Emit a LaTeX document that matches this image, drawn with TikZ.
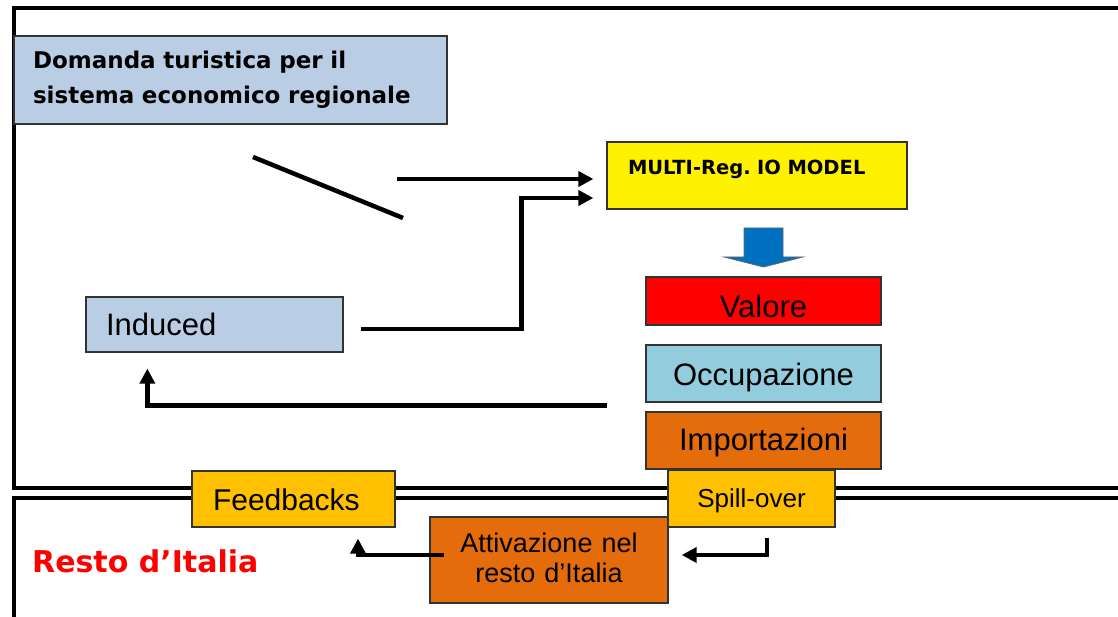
\documentclass[tikz,border=0pt]{standalone}
\usepackage{fontspec}
\setmainfont{Liberation Sans}
\newfontfamily\dvsans{DejaVu Sans}
\usetikzlibrary{arrows.meta}

\definecolor{paleblue}{HTML}{B9CDE5}
\definecolor{aqua}{HTML}{93CDDD}
\definecolor{burnt}{HTML}{E46C0A}
\definecolor{gold}{HTML}{FFC000}
\definecolor{arrowblue}{HTML}{0070C0}

\begin{document}
\begin{tikzpicture}[x=1pt, y=-1pt,
  box/.style={draw=black!80, line width=1.3pt, inner sep=0pt, font=\fontsize{31}{37}\selectfont},
  frame/.style={line width=4.5pt},
  link/.style={line width=4.5pt},
  arr/.style={-{Triangle[length=15pt,width=15pt]}}]

\useasboundingbox (0,0) rectangle (1118,617);

% ---- frames: region and rest of Italy
\draw[frame] (1118,8) -- (14,8) -- (14,488) -- (1118,488);
\draw[frame] (1118,498) -- (14,498) -- (14,617);

% ---- boxes
\node[box, fill=paleblue, minimum width=433pt, minimum height=88pt, inner xsep=19pt, text width=395pt, align=left,
      text height=17pt, text depth=40pt, font=\dvsans\bfseries\fontsize{23}{35}\selectfont] (domanda) at (230.5,80)
      {Domanda turistica per il\\sistema economico regionale};
\node[box, fill=yellow, minimum width=300pt, minimum height=67pt, inner xsep=21pt, text width=258pt, align=left,
      text height=14pt, text depth=15pt, font=\dvsans\bfseries\fontsize{19.5}{23}\selectfont] (model) at (757,175.5)
      {MULTI-Reg.\ IO MODEL};
\node[box, fill=paleblue, minimum width=257pt, minimum height=55pt, inner xsep=20pt, text width=217pt, align=left,
      text height=22pt, text depth=0pt] (induced) at (214.5,324.5) {Induced};
\node[box, fill=red, minimum width=235pt, minimum height=48pt, text height=32pt, text depth=0pt] (valore) at (763.5,301) {Valore};
\node[box, fill=aqua, minimum width=235pt, minimum height=57pt, text height=23pt, text depth=0pt] (occ) at (763.5,373.5) {Occupazione};
\node[box, fill=burnt, minimum width=235pt, minimum height=57pt, text height=19pt, text depth=0pt] (imp) at (763.5,440.5) {Importazioni};
\node[box, fill=gold, minimum width=167pt, minimum height=57pt, text height=17pt, text depth=0pt,
      font=\fontsize{26}{31}\selectfont] (spill) at (751.5,498.5) {Spill-over};
\node[box, fill=gold, minimum width=203pt, minimum height=56pt, inner xsep=21pt, text width=161pt, align=left,
      text height=22pt, text depth=0pt, font=\fontsize{30}{36}\selectfont] (feed) at (293.5,499) {Feedbacks};
\node[box, fill=burnt, minimum width=238pt, minimum height=86pt, text width=238pt, align=center, text height=19pt, text depth=35pt,
      font=\fontsize{27}{30}\selectfont] (attiv) at (549,560) {Attivazione nel\\resto d’Italia};
\node[anchor=base west, inner sep=0pt, text=red, font=\dvsans\bfseries\fontsize{30}{36}\selectfont] (resto) at (32,572) {Resto d’Italia};

% ---- block arrow
\draw[fill=arrowblue, draw=black!60, line width=0.8pt] (744,228) -- (783,228) -- (783,257) -- (803,257)
  -- (763.5,267) -- (724,257) -- (744,257) -- cycle;

% ---- connectors
\coordinate (d1) at (253,157);
\coordinate (d2) at (403,218);
\coordinate (src) at (397,179);
\draw[link] (d1) -- (d2);
\draw[link,arr] (src) -- ([xshift=-13pt,yshift=-3.5pt]model.west);
\draw[link,arr] ([xshift=17pt,yshift=-4.5pt]induced.east) -- ++(161,0) |- ([xshift=-13pt,yshift=-22.5pt]model.west);
\draw[link,arr] ([xshift=-38pt,yshift=-3pt]occ.south west) -| ([xshift=62pt,yshift=-16pt]induced.south west);
\draw[link,arr] ([xshift=15.5pt,yshift=-10pt]spill.south) |- ([xshift=13pt,yshift=5pt]attiv.east);
\draw[link,arr] ([xshift=15pt,yshift=5pt]attiv.west) -| ([xshift=64.5pt,yshift=-11pt]feed.south);

\end{tikzpicture}
\end{document}
